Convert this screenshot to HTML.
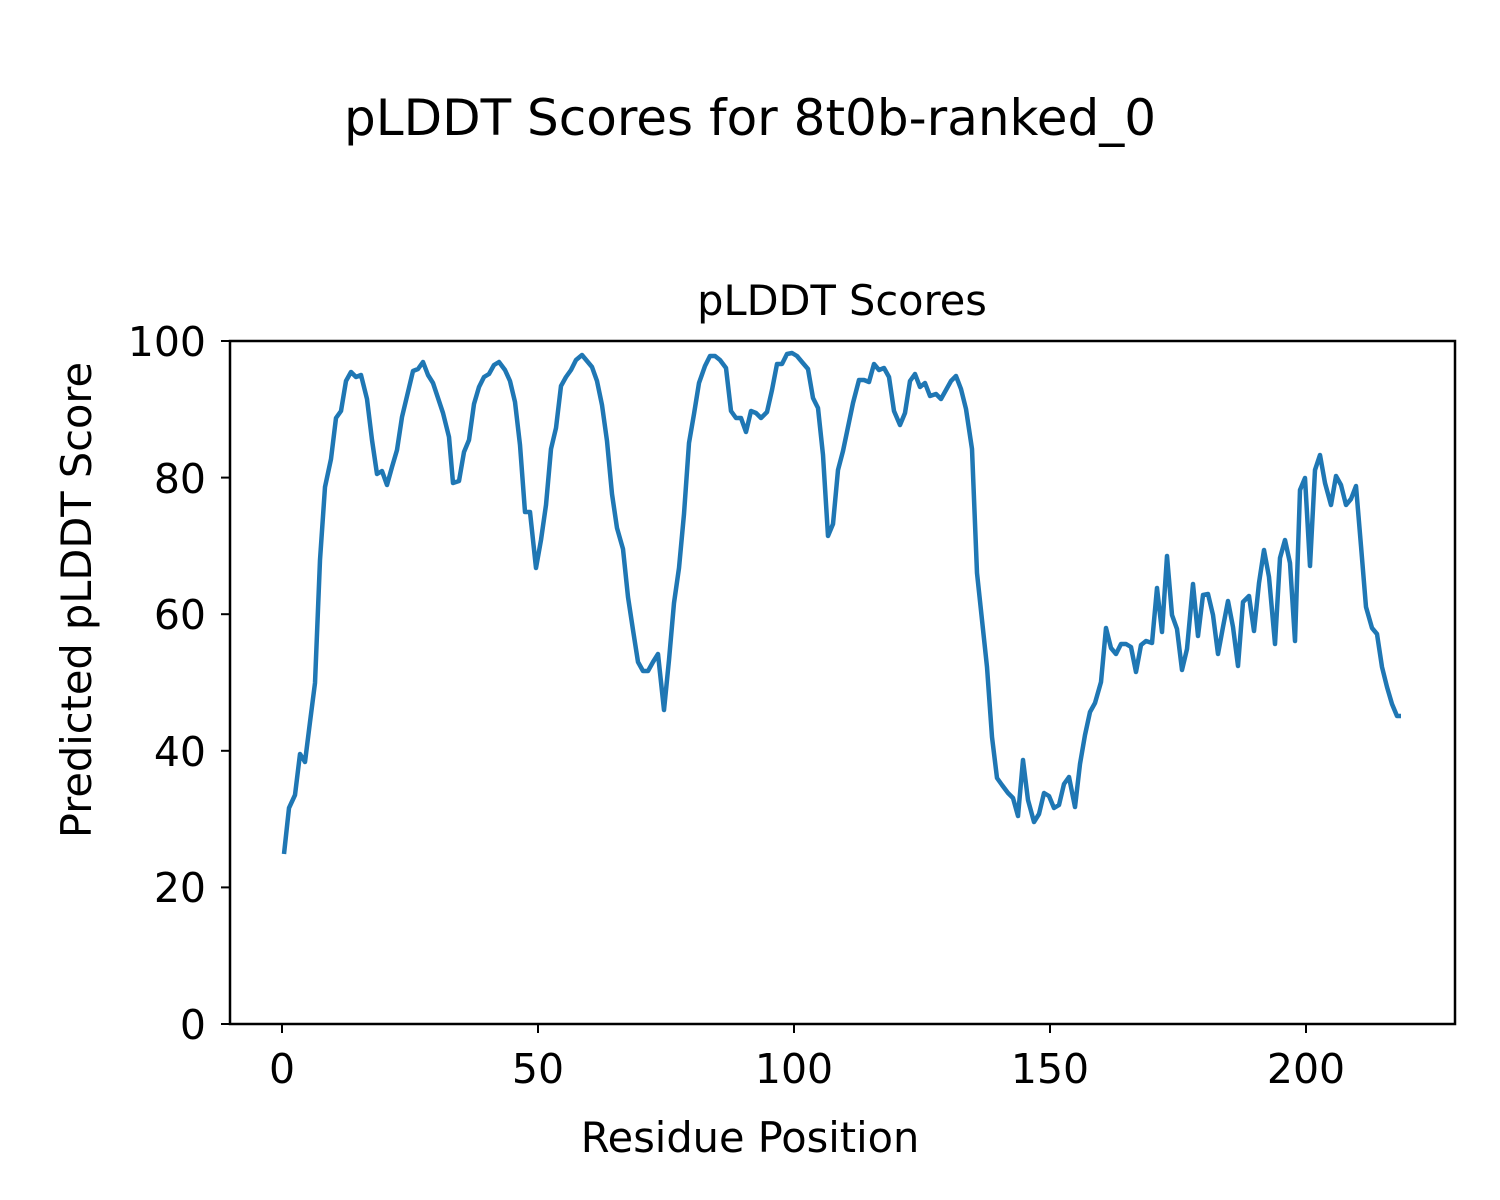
<!DOCTYPE html>
<html><head><meta charset="utf-8"><style>body{margin:0;background:#fff}svg{display:block}</style></head><body>
<svg width="1500" height="1200" xmlns="http://www.w3.org/2000/svg" font-family="'DejaVu Sans', 'Liberation Sans', sans-serif">
<rect width="1500" height="1200" fill="#fff"/>
<text x="750" y="135" font-size="50" text-anchor="middle">pLDDT Scores for 8t0b-ranked_0</text>
<text x="842" y="315" font-size="41.5" text-anchor="middle">pLDDT Scores</text>
<polyline fill="none" stroke="#1f77b4" stroke-width="4.5" stroke-linejoin="round" points="284,854 289,808 295,795 300,754 305,762 310,722 315,683 320,560 325,487 331,459 336,418 341,411 346,381 351,372 356,377 361,375 367,399 372,440 377,474 382,471 387,485 392,467 397,450 402,417 408,392 413,371 418,369 423,362 428,375 433,383 438,398 443,413 449,437 453,483 459,481 464,452 469,440 474,404 479,387 484,377 489,374 494,365 499,362 505,370 510,381 515,402 520,445 525,512 530,512 536,568 541,540 546,505 551,449 556,428 561,386 566,377 571,370 576,360 582,355 587,361 592,367 597,381 602,405 607,441 612,494 617,528 623,549 628,597 633,630 638,662 643,671 648,671 653,662 658,654 664,710 669,660 674,603 679,568 684,514 689,443 694,414 699,383 705,366 710,356 715,356 720,360 726,368 731,411 736,418 741,418 746,432 751,411 756,413 761,418 767,412 772,390 777,364 782,364 787,354 792,353 797,356 802,362 808,369 813,398 818,408 823,455 828,536 833,524 838,470 843,451 848,427 853,403 859,380 864,380 869,382 874,364 879,370 884,368 889,377 894,411 900,425 905,413 910,381 915,374 920,387 925,383 930,396 936,394 941,399 946,390 951,381 956,376 961,389 966,409 972,449 977,573 982,620 987,667 992,737 997,778 1002,785 1008,793 1013,798 1018,816 1023,760 1028,800 1034,822 1039,814 1044,793 1049,796 1054,808 1059,805 1064,784 1069,777 1075,807 1080,764 1085,735 1090,712 1095,703 1101,682 1106,628 1111,648 1116,654 1121,644 1126,644 1131,647 1136,672 1141,645 1146,641 1152,643 1157,588 1162,632 1167,556 1172,615 1177,629 1182,670 1187,649 1193,584 1198,636 1203,595 1208,594 1213,615 1218,654 1223,627 1228,601 1233,627 1238,666 1243,602 1249,596 1254,631 1259,583 1264,550 1269,577 1275,644 1280,558 1285,540 1290,563 1295,641 1300,490 1305,478 1310,566 1315,470 1320,455 1325,483 1331,505 1336,476 1341,485 1346,505 1351,499 1356,486 1361,546 1366,607 1372,628 1377,634 1382,667 1387,687 1392,704 1397,716 1401,716"/>
<rect x="230" y="341" width="1225" height="683" fill="none" stroke="#000" stroke-width="2.5"/>
<g stroke="#000" stroke-width="2">
<line x1="282" y1="1024" x2="282" y2="1033"/><line x1="538" y1="1024" x2="538" y2="1033"/><line x1="794" y1="1024" x2="794" y2="1033"/><line x1="1050" y1="1024" x2="1050" y2="1033"/><line x1="1306" y1="1024" x2="1306" y2="1033"/>
<line x1="221" y1="1024" x2="230" y2="1024"/><line x1="221" y1="887.4" x2="230" y2="887.4"/><line x1="221" y1="750.8" x2="230" y2="750.8"/><line x1="221" y1="614.2" x2="230" y2="614.2"/><line x1="221" y1="477.6" x2="230" y2="477.6"/><line x1="221" y1="341" x2="230" y2="341"/>
</g>
<g font-size="41" text-anchor="middle">
<text x="282" y="1083">0</text><text x="538" y="1083">50</text><text x="794" y="1083">100</text><text x="1050" y="1083">150</text><text x="1306" y="1083">200</text>
</g>
<g font-size="41" text-anchor="end">
<text x="206" y="1039">0</text><text x="206" y="902">20</text><text x="206" y="766">40</text><text x="206" y="629">60</text><text x="206" y="493">80</text><text x="206" y="356">100</text>
</g>
<text x="750" y="1152" font-size="41.5" text-anchor="middle">Residue Position</text>
<text transform="translate(91,600) rotate(-90)" font-size="41.5" text-anchor="middle">Predicted pLDDT Score</text>
</svg>
</body></html>
